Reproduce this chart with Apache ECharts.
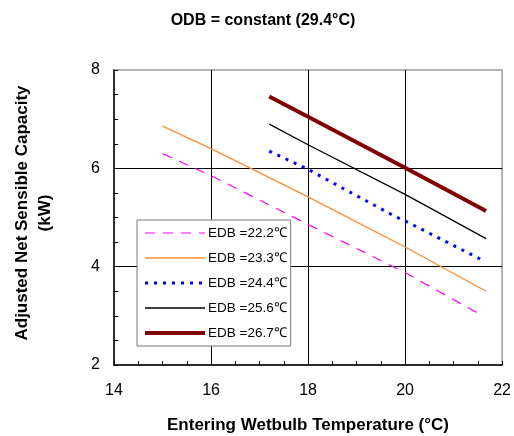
<!DOCTYPE html>
<html>
<head>
<meta charset="utf-8">
<script src="https://cdn.jsdelivr.net/npm/echarts@6/dist/echarts.min.js"></script>
<style>html,body{margin:0;padding:0;background:#fff;}#c{width:514px;height:436px;}</style>
</head>
<body>
<div id="c"></div>
<script>
const seriesNames = ['EDB =22.2℃', 'EDB =23.3℃', 'EDB =24.4℃', 'EDB =25.6℃', 'EDB =26.7℃'];
const edb222 = [[15, 6.30], [16, 5.85], [18, 4.86], [20, 3.88], [21.6, 3.00]];
const edb233 = [[15, 6.86], [16, 6.40], [18, 5.42], [20, 4.40], [21.67, 3.50]];
const edb244 = [[17.2, 6.35], [18, 5.98], [18.8, 5.55], [19.8, 5.02], [20, 4.93], [21.6, 4.13]];
const edb256 = [[17.2, 6.90], [18, 6.48], [20, 5.47], [21.67, 4.57]];
const edb267 = [[17.2, 7.46], [18, 7.05], [20, 6.01], [21.67, 5.13]];
const xTicks = [14, 16, 18, 20, 22];
const yTicks = [2, 4, 6, 8];

const chart = echarts.init(document.getElementById('c'));
const FONT = '"Liberation Sans", Arial, sans-serif';
const styles = [
  {color: '#ff00ff', width: 1.2, type: [10, 8]},
  {color: '#ff8c2e', width: 1.3, type: 'solid'},
  {color: '#0000ff', width: 3, type: [3, 6]},
  {color: '#000000', width: 1.3, type: 'solid'},
  {color: '#800000', width: 4, type: 'solid'}
];
const datas = [edb222, edb233, edb244, edb256, edb267];
chart.setOption({
  animation: false,
  title: {
    text: 'ODB = constant (29.4°C)', left: 258, top: 8, textAlign: 'center',
    textStyle: {fontFamily: FONT, fontSize: 16, fontWeight: 'bold', color: '#000'}
  },
  grid: {left: 114, right: 11, top: 70, bottom: 71, show: true, borderColor: '#999', borderWidth: 1.5, backgroundColor: '#fff'},
  xAxis: {
    type: 'value', min: xTicks[0], max: xTicks[xTicks.length - 1], interval: 2,
    axisLine: {lineStyle: {color: '#000', width: 1.5}},
    axisTick: {inside: true, length: 4, lineStyle: {color: '#000'}},
    minorTick: {show: true, splitNumber: 4, length: 4, lineStyle: {color: '#000'}},
    splitLine: {show: true, showMinLine: false, showMaxLine: false, lineStyle: {color: '#000', width: 1}},
    axisLabel: {fontFamily: FONT, fontSize: 16, color: '#000', margin: 18}
  },
  yAxis: {
    type: 'value', min: yTicks[0], max: yTicks[yTicks.length - 1], interval: 2,
    axisLine: {show: true, lineStyle: {color: '#000', width: 1.5}},
    axisTick: {show: true, inside: true, length: 4, lineStyle: {color: '#000'}},
    minorTick: {show: true, splitNumber: 4, length: 4, lineStyle: {color: '#000'}},
    splitLine: {show: true, showMinLine: false, showMaxLine: false, lineStyle: {color: '#000', width: 1}},
    axisLabel: {fontFamily: FONT, fontSize: 16, color: '#000', margin: 14}
  },
  legend: {
    orient: 'vertical', left: 137, top: 220, width: 153,
    backgroundColor: '#fff', borderColor: '#777', borderWidth: 1,
    padding: [6, 4, 6, 6], itemGap: 11, itemWidth: 60, itemHeight: 14,
    itemStyle: {color: 'transparent', borderWidth: 0, opacity: 0},
    textStyle: {fontFamily: FONT, fontSize: 13.5, color: '#000', padding: [0, 0, 0, -2]},
    data: seriesNames.map((n, i) => ({name: n, lineStyle: {width: styles[i].width}}))
  },
  graphic: [
    {type: 'text', x: 22, y: 213, rotation: Math.PI / 2,
     style: {text: 'Adjusted Net Sensible Capacity', fontFamily: FONT, fontSize: 17, fontWeight: 'bold', fill: '#000', align: 'center', verticalAlign: 'middle'}},
    {type: 'text', x: 45, y: 213, rotation: Math.PI / 2,
     style: {text: '(kW)', fontFamily: FONT, fontSize: 17, fontWeight: 'bold', fill: '#000', align: 'center', verticalAlign: 'middle'}},
    {type: 'text', x: 308, y: 425,
     style: {text: 'Entering Wetbulb Temperature (°C)', fontFamily: FONT, fontSize: 17, fontWeight: 'bold', fill: '#000', align: 'center', verticalAlign: 'middle'}}
  ],
  series: datas.map((d, i) => ({
    name: seriesNames[i], type: 'line', data: d, symbol: 'none', smooth: false,
    lineStyle: styles[i], itemStyle: {color: styles[i].color}, z: 2 + i
  }))
});
</script>
</body>
</html>
